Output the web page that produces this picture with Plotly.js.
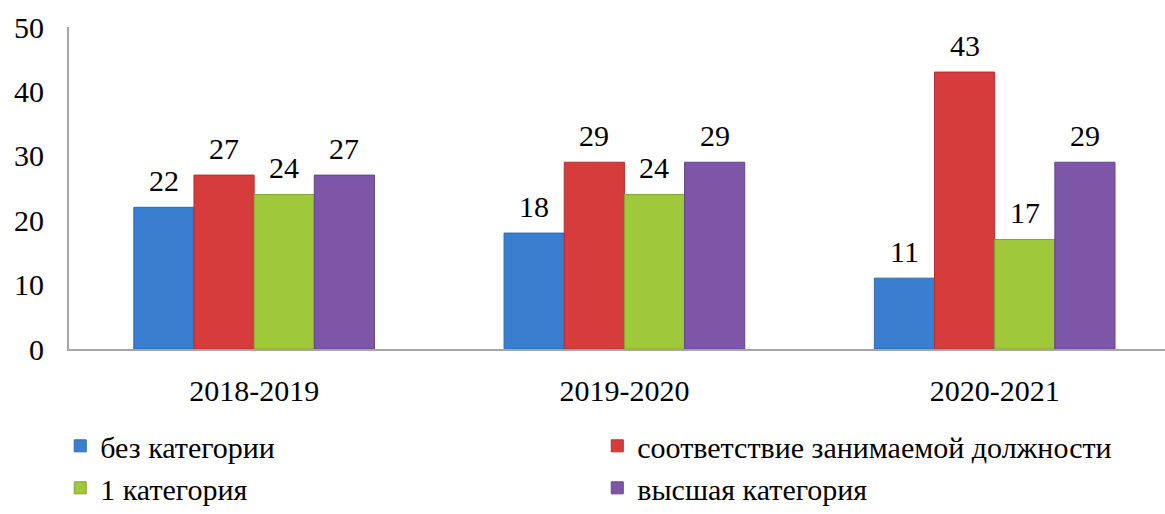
<!DOCTYPE html>
<html>
<head>
<meta charset="utf-8">
<script src="https://cdn.plot.ly/plotly-3.0.1.min.js"></script>
<style>html,body{margin:0;padding:0;background:#fff;}#chart{width:1165px;height:514px;}</style>
</head>
<body>
<div id="chart"></div>
<script>
const years = ['2018-2019', '2019-2020', '2020-2021'];
const seriesNames = ['без категории', 'соответствие занимаемой должности', '1 категория', 'высшая категория'];
const bezKategorii = [22, 18, 11];
const sootvetstvie = [27, 29, 43];
const pervaya = [24, 24, 17];
const vysshaya = [27, 29, 29];
const seriesValues = [bezKategorii, sootvetstvie, pervaya, vysshaya];
const colors = ['#3A7FCF', '#D63C3C', '#9FC83B', '#7E56A8'];
const lineColors = ['#2F69AC', '#B02F2F', '#82A52E', '#65438A'];
const legendOf = ['legend', 'legend2', 'legend', 'legend2'];

const FONT = 'Liberation Serif';
const FS = 30;
const bargap = 0.35;
const nSeries = seriesValues.length;
const barW = (1 - bargap) / nSeries;

const traces = seriesValues.map((vals, j) => ({
  type: 'bar',
  name: seriesNames[j],
  x: years,
  y: vals,
  legend: legendOf[j],
  legendgroup: 'g' + j,
  marker: {color: colors[j], line: {color: lineColors[j], width: 1}},
  hoverinfo: 'none'
}));

const annotations = [];
seriesValues.forEach((vals, j) => {
  const off = -(1 - bargap) / 2 + barW * (j + 0.5);
  vals.forEach((v, i) => {
    annotations.push({
      x: i + off, y: v, xref: 'x', yref: 'y',
      text: String(v), showarrow: false,
      yanchor: 'middle', yshift: 27,
      font: {family: FONT, size: FS, color: '#000'}
    });
  });
});

const legendBase = {
  orientation: 'v', yanchor: 'top', xanchor: 'left', y: -0.22,
  itemwidth: 30, traceorder: 'normal', tracegroupgap: 13,
  font: {family: FONT, size: FS, color: '#000'},
  bgcolor: 'rgba(0,0,0,0)'
};

const layout = {
  width: 1165, height: 514,
  margin: {l: 69, r: 0, t: 27, b: 165, pad: 0},
  paper_bgcolor: '#fff', plot_bgcolor: '#fff',
  font: {family: FONT, size: FS, color: '#000'},
  barmode: 'group', bargap: bargap, bargroupgap: 0,
  showlegend: true,
  xaxis: {
    type: 'category', range: [-0.5, 2.46],
    showline: true, linecolor: '#A6A6A6', linewidth: 2,
    showgrid: false, zeroline: false, ticks: '',
    ticklabelstandoff: 14,
    tickfont: {family: FONT, size: FS, color: '#000'}
  },
  yaxis: {
    range: [0, 50], dtick: 10,
    showline: true, linecolor: '#A6A6A6', linewidth: 2,
    showgrid: false, zeroline: false, ticks: '',
    ticklabelstandoff: 17,
    tickfont: {family: FONT, size: FS, color: '#000'}
  },
  legend: Object.assign({}, legendBase, {x: -0.008}),
  legend2: Object.assign({}, legendBase, {x: 0.482}),
  annotations: annotations
};

Plotly.newPlot('chart', traces, layout, {displayModeBar: false, staticPlot: true});
</script>
</body>
</html>
